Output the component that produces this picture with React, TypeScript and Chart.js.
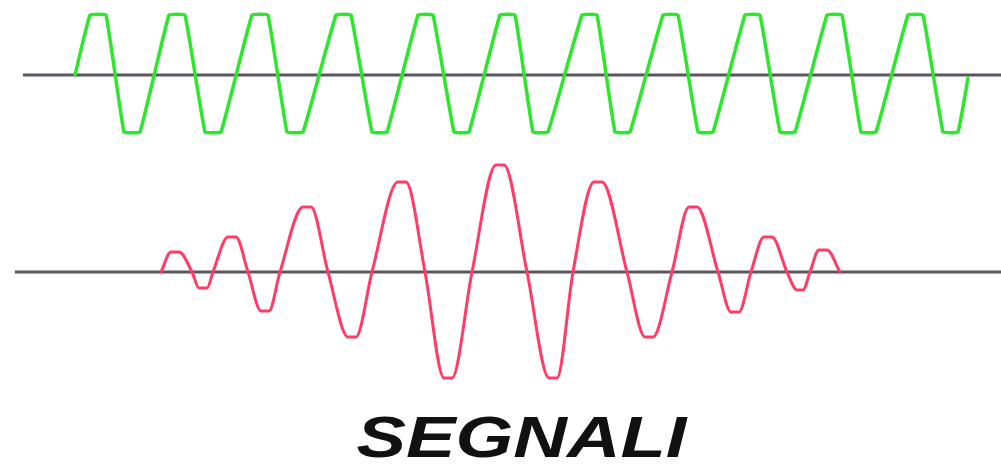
import { useEffect, useRef } from "react";
import { Chart, registerables } from "chart.js";

Chart.register(...registerables);

// Carrier signal (green): start/end of each flat crest and trough
const carrierX = [
  75, 90, 106, 124, 140, 169, 185, 205, 221, 252, 268, 287, 303, 336, 351, 372, 387, 418, 433,
  454, 469, 500, 515, 533, 548, 582, 597, 615, 630, 663, 678, 698, 713, 745, 760, 780, 795,
  827, 842, 861, 876, 908, 923, 943, 958, 968,
];
const carrierY = [
  0, 60, 60, -57, -57, 60, 60, -57, -57, 60, 60, -57, -57, 60, 60, -57, -57, 60, 60,
  -57, -57, 60, 60, -57, -57, 60, 60, -57, -57, 60, 60, -57, -57, 60, 60, -57, -57,
  60, 60, -57, -57, 60, 60, -57, -57, -3,
];

// Modulated signal (red): crests, troughs (with their rounded tops) and zero crossings
const modulatedX = [
  161, 171, 179, 192, 199, 207, 213, 228, 236, 248, 261, 269, 280, 303, 311, 328, 348, 356,
  372, 398, 406, 425, 444, 452, 472, 496, 504, 527, 549, 557, 573, 594, 602, 627, 645, 653,
  672, 689, 697, 718, 731, 739, 751, 764, 772, 787, 797, 803, 810, 819, 827, 840,
];
const modulatedY = [
  0, 20, 20, 0, -16, -16, 0, 35, 35, 0, -39, -39, 0, 65, 65, 0, -65, -65,
  0, 90, 90, 0, -106, -106, 0, 107, 107, 0, -106, -106, 0, 90, 90, 0, -65, -65,
  0, 65, 65, 0, -40, -40, 0, 35, 35, 0, -18, -18, 0, 22, 22, 0,
];

// Zero reference lines
const carrierAxisX = [23, 1001];
const carrierAxisY = [0, 0];
const modulatedAxisX = [15, 1001];
const modulatedAxisY = [0, 0];

const titleText = "SEGNALI";

const toPoints = (xs: number[], ys: number[]) => xs.map((x, i) => ({ x, y: ys[i] }));

export default function App() {
  const canvasRef = useRef<HTMLCanvasElement>(null);

  useEffect(() => {
    if (!canvasRef.current) return;
    const common = {
      pointRadius: 0,
      pointHoverRadius: 0,
      fill: false,
      borderCapStyle: "round" as const,
      borderJoinStyle: "round" as const,
    };
    const chart = new Chart(canvasRef.current, {
      type: "line",
      data: {
        datasets: [
          {
            ...common,
            data: toPoints(carrierAxisX, carrierAxisY),
            borderColor: "#5d5660",
            borderWidth: 3,
            borderCapStyle: "butt",
            tension: 0,
            yAxisID: "y",
            order: 2,
          },
          {
            ...common,
            data: toPoints(modulatedAxisX, modulatedAxisY),
            borderColor: "#5d5660",
            borderWidth: 3,
            borderCapStyle: "butt",
            tension: 0,
            yAxisID: "y2",
            order: 2,
          },
          {
            ...common,
            data: toPoints(carrierX, carrierY),
            borderColor: "#2fe62f",
            borderWidth: 3.5,
            tension: 0.08,
            yAxisID: "y",
            order: 1,
          },
          {
            ...common,
            data: toPoints(modulatedX, modulatedY),
            borderColor: "#ff3c68",
            borderWidth: 3,
            tension: 0.4,
            cubicInterpolationMode: "monotone",
            yAxisID: "y2",
            order: 1,
          },
        ],
      },
      options: {
        animation: false,
        responsive: true,
        maintainAspectRatio: false,
        events: [],
        layout: { padding: 0 },
        plugins: {
          legend: { display: false },
          tooltip: { enabled: false },
          title: { display: false },
        },
        scales: {
          x: { type: "linear", min: 0, max: 1001, display: false },
          y: { type: "linear", min: -395, max: 75, display: false },
          y2: { type: "linear", min: -198, max: 272, display: false },
        },
      },
    });
    return () => chart.destroy();
  }, []);

  return (
    <div
      style={{
        position: "absolute",
        left: 0,
        top: 0,
        width: 1001,
        height: 470,
        background: "#ffffff",
        overflow: "hidden",
      }}
    >
      <div style={{ position: "absolute", left: 0, top: 0, width: 1001, height: 470 }}>
        <canvas ref={canvasRef} />
      </div>
      <div
        style={{
          position: "absolute",
          left: 21,
          top: 408,
          width: 1001,
          textAlign: "center",
          fontFamily: '"Liberation Sans", Arial, sans-serif',
          fontWeight: "bold",
          fontStyle: "italic",
          fontSize: 58,
          lineHeight: 1,
          color: "#111111",
          transform: "scaleX(1.28)",
          transformOrigin: "center",
          whiteSpace: "nowrap",
        }}
      >
        {titleText}
      </div>
    </div>
  );
}
